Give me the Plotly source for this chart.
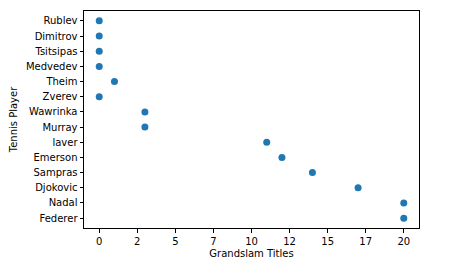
import plotly.graph_objects as go

players = ["Federer", "Nadal", "Djokovic", "Sampras", "Emerson", "laver", "Murray",
           "Wawrinka", "Zverev", "Theim", "Medvedev", "Tsitsipas", "Dimitrov", "Rublev"]
titles = [20, 20, 17, 14, 12, 11, 3, 3, 0, 1, 0, 0, 0, 0]

x_tickvals = [0, 2.5, 5, 7.5, 10, 12.5, 15, 17.5, 20]
x_ticktext = ["0", "2", "5", "7", "10", "12", "15", "17", "20"]

fig = go.Figure(go.Scatter(
    x=titles, y=players, mode="markers",
    marker=dict(color="#1f77b4", size=7, line=dict(width=0)),
))

axis_common = dict(
    showline=True, linecolor="black", linewidth=1, mirror=True,
    ticks="outside", ticklen=3.5, tickwidth=1, tickcolor="black",
    showgrid=False, zeroline=False,
    tickfont=dict(family="DejaVu Sans", size=10, color="black"),
)

fig.update_layout(
    width=464, height=275,
    margin=dict(l=84, r=45, t=11, b=47),
    paper_bgcolor="white", plot_bgcolor="white",
    showlegend=False,
    font=dict(family="DejaVu Sans", size=10, color="black"),
    xaxis=dict(range=[-1, 21], tickmode="array", tickvals=x_tickvals, ticktext=x_ticktext,
               title=dict(text="Grandslam Titles", font=dict(size=10), standoff=4), **axis_common),
    yaxis=dict(type="category", categoryorder="array", categoryarray=players,
               range=[-0.65, len(players) - 1 + 0.65],
               title=dict(text="Tennis Player", font=dict(size=10), standoff=6), **axis_common),
)

fig.write_html("out.html")
